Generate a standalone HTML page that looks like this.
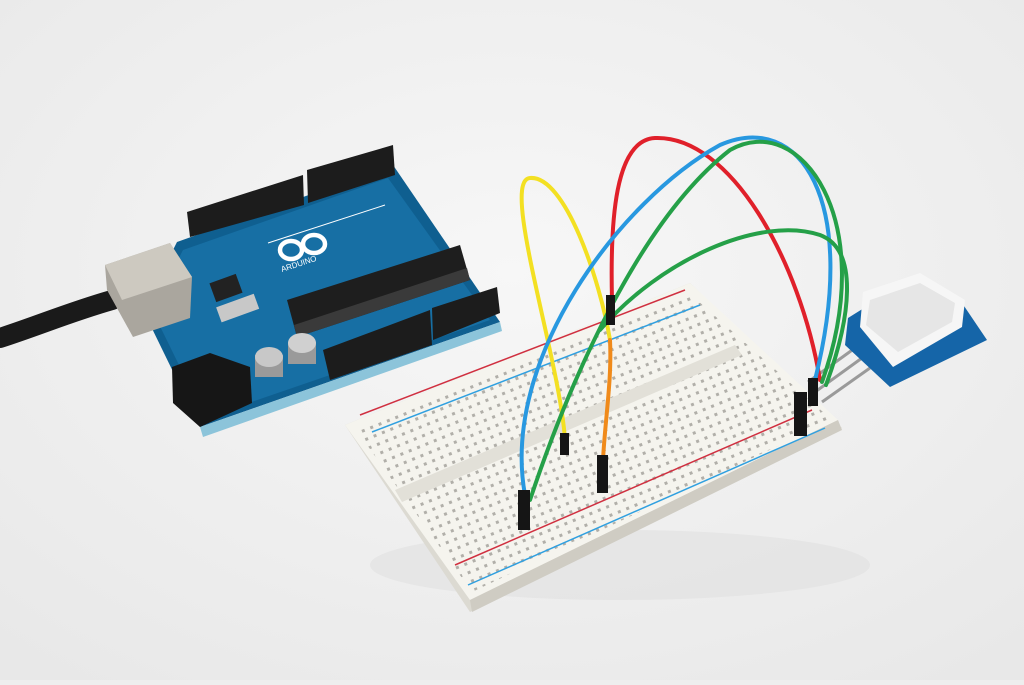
<!DOCTYPE html>
<html><head><style>html,body{margin:0;padding:0;}body{width:1024px;height:680px;overflow:hidden;background:#eeeeee;}</style></head>
<body>
<svg width="1024" height="680" viewBox="0 0 1024 680" xmlns="http://www.w3.org/2000/svg">
<defs>
<radialGradient id="bg" cx="50%" cy="40%" r="75%"><stop offset="0" stop-color="#f7f7f7"/><stop offset="1" stop-color="#e8e8e8"/></radialGradient>
<pattern id="holes" width="9" height="9" patternUnits="userSpaceOnUse" patternTransform="rotate(-22)"><rect x="3" y="3" width="3" height="3" fill="#a09e98"/></pattern>
</defs>
<rect width="1024" height="680" fill="url(#bg)"/>
<ellipse cx="620" cy="565" rx="250" ry="35" fill="#dedede" opacity="0.5"/>
<path d="M0,338 C40,325 70,312 112,300" stroke="#1a1a1a" stroke-width="20" fill="none" stroke-linecap="round"/>
<polygon points="143,310 177,242 393,165 500,322 200,427" fill="#0f5f90"/>
<polygon points="200,427 500,322 502,331 203,437" fill="#8cc4da"/>
<polygon points="152,310 183,250 388,178 490,320 205,418" fill="#176fa4"/>
<polygon points="187,212 303,175 304,205 190,237" fill="#1c1c1c"/>
<polygon points="307,170 393,145 395,175 308,203" fill="#1c1c1c"/>
<polygon points="323,350 430,310 432,345 330,380" fill="#1c1c1c"/>
<polygon points="432,308 497,287 500,313 433,340" fill="#1c1c1c"/>
<polygon points="287,300 460,245 470,280 297,337" fill="#1e1e1e"/>
<polygon points="294,325 467,268 470,280 297,337" fill="#3a3a3a"/>
<polygon points="105,265 170,243 192,277 190,318 133,337 107,290" fill="#aaa69e"/>
<polygon points="105,265 170,243 192,277 122,300" fill="#cdc9c0"/>
<polygon points="172,367 210,353 250,367 252,403 200,427 173,403" fill="#161616"/>
<rect x="255" y="355" width="28" height="22" fill="#9a9a9a"/>
<ellipse cx="269" cy="357" rx="14" ry="10" fill="#c8c8c8"/>
<rect x="288" y="342" width="28" height="22" fill="#9a9a9a"/>
<ellipse cx="302" cy="343" rx="14" ry="10" fill="#d0d0d0"/>
<rect x="218" y="300" width="40" height="16" fill="#c8c8c8" transform="rotate(-20 238 309)"/>
<rect x="212" y="278" width="28" height="20" fill="#222" transform="rotate(-20 226 288)"/>
<ellipse cx="291" cy="250" rx="11" ry="9" fill="none" stroke="#fff" stroke-width="4.5"/>
<ellipse cx="314" cy="244" rx="11" ry="9" fill="none" stroke="#fff" stroke-width="4.5"/>
<text x="282" y="272" font-family="Liberation Sans, sans-serif" font-size="8" fill="#fff" transform="rotate(-18 282 272)">ARDUINO</text>
<line x1="268" y1="243" x2="385" y2="205" stroke="#fff" stroke-width="1"/>
<polygon points="345,425 690,283 842,428 470,612" fill="#dcdad2"/>
<polygon points="345,425 690,283 838,420 470,600" fill="#f5f4ee"/>
<polygon points="470,600 838,420 842,430 472,612" fill="#cfccc3"/>
<polygon points="355,428 688,292 832,420 472,592" fill="url(#holes)" opacity="0.8"/>
<polygon points="395,490 735,345 742,355 402,502" fill="#e2e0d8"/>
<line x1="360" y1="415" x2="685" y2="290" stroke="#d03040" stroke-width="1.5"/>
<line x1="372" y1="432" x2="700" y2="305" stroke="#30a0e0" stroke-width="1.5"/>
<line x1="455" y1="565" x2="812" y2="410" stroke="#d03040" stroke-width="1.5"/>
<line x1="468" y1="585" x2="825" y2="428" stroke="#30a0e0" stroke-width="1.5"/>
<line x1="855" y1="348" x2="808" y2="382" stroke="#9a9a9a" stroke-width="3"/>
<line x1="862" y1="358" x2="815" y2="392" stroke="#9a9a9a" stroke-width="3"/>
<line x1="870" y1="368" x2="822" y2="402" stroke="#9a9a9a" stroke-width="3"/>
<polygon points="848,318 880,298 960,300 987,340 890,387 845,345" fill="#1565a8"/>
<polygon points="863,292 920,273 965,300 962,327 893,367 860,327" fill="#f6f6f6"/>
<polygon points="870,300 920,283 955,303 952,322 898,352 866,325" fill="#e6e6e6"/>
<g fill="none" stroke-width="4" stroke-linecap="round">
<path d="M565,440 C560,360 500,180 530,178 C565,175 600,280 610,340" stroke="#f3e022"/>
<path d="M610,340 C612,380 605,420 603,460" stroke="#f08a1a"/>
<path d="M612,300 C610,220 615,140 655,138 C730,135 800,260 820,380" stroke="#e0202a"/>
<path d="M525,495 C500,360 620,200 720,145 C800,110 860,200 815,380" stroke="#2898e0"/>
<path d="M530,500 C570,380 640,220 730,150 C800,110 880,220 822,382" stroke="#25a048"/>
<path d="M600,330 C660,260 760,215 820,235 C860,250 850,320 826,385" stroke="#25a048"/>
</g>
<g fill="#151515">
<rect x="518" y="490" width="12" height="40"/>
<rect x="597" y="455" width="11" height="38"/>
<rect x="560" y="433" width="9" height="22"/>
<rect x="606" y="295" width="9" height="30"/>
<rect x="794" y="392" width="13" height="44"/>
<rect x="808" y="378" width="10" height="28"/>
</g>
</svg>
</body></html>
